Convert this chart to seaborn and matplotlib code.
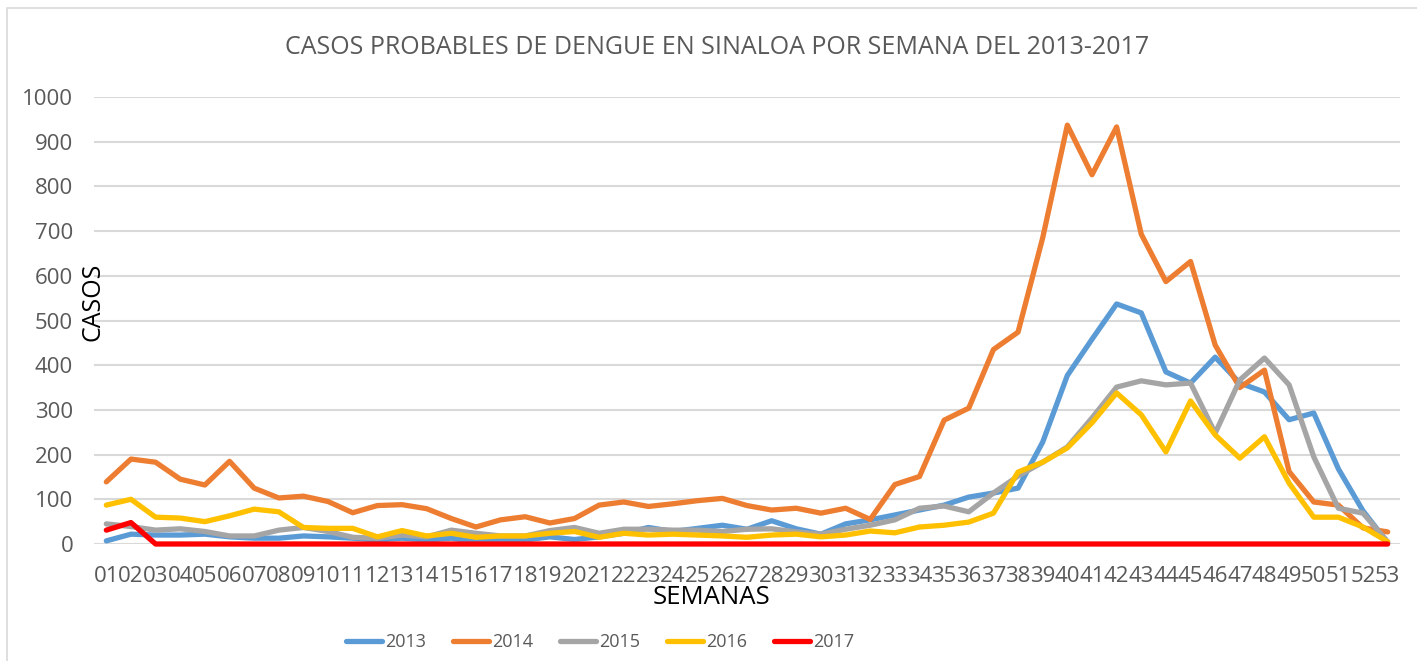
import numpy as np
import pandas as pd
import matplotlib
matplotlib.use("Agg")
import matplotlib.pyplot as plt
import seaborn as sns
from matplotlib.patches import Rectangle

# Weekly probable dengue cases, Sinaloa
semanas = [f"{i:02d}" for i in range(1, 54)]

casos_2013 = [7, 22, 20, 20, 22, 16, 13, 13, 18, 16, 13, 9, 13, 9, 13, 5, 9, 9, 16, 10,
              16, 24, 37, 28, 35, 42, 33, 52, 34, 22, 45, 54, 65, 76, 87, 105, 114, 125, 228, 377,
              458, 537, 517, 385, 360, 418, 360, 340, 278, 293, 168, 74, 3]
casos_2014 = [139, 190, 183, 145, 132, 185, 125, 103, 107, 95, 70, 86, 88, 79, 57, 38, 54, 61, 47, 57,
              87, 94, 84, 90, 97, 102, 86, 76, 80, 69, 80, 55, 133, 151, 277, 304, 435, 474, 685, 937,
              826, 933, 693, 587, 632, 445, 350, 389, 162, 94, 87, 36, 27]
casos_2015 = [45, 39, 31, 34, 28, 18, 18, 31, 37, 28, 15, 13, 20, 16, 31, 24, 18, 18, 30, 37,
              24, 33, 33, 31, 31, 28, 33, 34, 27, 22, 33, 42, 54, 80, 85, 72, 114, 152, 183, 217,
              282, 351, 365, 356, 360, 248, 367, 416, 356, 195, 80, 69, 5]
casos_2016 = [87, 100, 60, 58, 50, 63, 78, 72, 37, 35, 35, 16, 30, 18, 24, 15, 18, 18, 24, 28,
              15, 24, 20, 22, 20, 18, 15, 20, 22, 16, 20, 29, 25, 38, 42, 49, 69, 161, 183, 215,
              271, 338, 289, 206, 320, 244, 192, 240, 136, 60, 60, 38, 5]
casos_2017 = [31, 48] + [0] * 51

anios = ["2013", "2014", "2015", "2016", "2017"]
colores = ["#5B9BD5", "#ED7D31", "#A5A5A5", "#FFC000", "#FF0000"]

df = pd.DataFrame({
    "semana": list(range(1, 54)) * 5,
    "casos": casos_2013 + casos_2014 + casos_2015 + casos_2016 + casos_2017,
    "anio": [a for a in anios for _ in range(53)],
})

sns.set_style("white")
plt.rcParams["font.family"] = ["Open Sans", "DejaVu Sans"]

W, H = 1417, 661
fig = plt.figure(figsize=(W / 100, H / 100), dpi=100)
ax = fig.add_axes([94 / W, 1 - 544 / H, (1400 - 94) / W, (544 - 97) / H])

sns.lineplot(data=df, x="semana", y="casos", hue="anio", palette=dict(zip(anios, colores)),
             linewidth=3.8, ax=ax, legend=False, zorder=3)
for ln in ax.lines:
    ln.set_clip_on(False)

ax.set_xlim(0.5, 53.5)
ax.set_ylim(0, 1000)
ax.set_yticks(range(0, 1001, 100))
ax.set_xticks(range(1, 54))
ax.set_xticklabels(semanas)
ax.yaxis.grid(True, color="#D9D9D9", linewidth=1.5, zorder=0)
ax.xaxis.grid(False)
for s in ax.spines.values():
    s.set_visible(False)
ax.tick_params(axis="both", length=0, labelsize=16, labelcolor="#595959")
ax.tick_params(axis="x", pad=16)
ax.tick_params(axis="y", pad=15)
ax.set_xlabel("")
ax.set_ylabel("")

fig.text(717 / W, 1 - 47 / H, "CASOS PROBABLES DE DENGUE EN SINALOA POR SEMANA DEL 2013-2017",
         ha="center", va="center", fontsize=18, color="#595959")
fig.text(93 / W, 1 - 302 / H, "CASOS", rotation=90, ha="center", va="center",
         fontsize=18, color="black")
fig.text(711 / W, 1 - 598 / H, "SEMANAS", ha="center", va="center",
         fontsize=18.5, color="black")

handles = [plt.Line2D([], [], color=c, linewidth=3.8, solid_capstyle="round") for c in colores]
fig.legend(handles, anios, loc="center", bbox_to_anchor=(600 / W, 1 - 642 / H), ncol=5,
           frameon=False, fontsize=13, labelcolor="#595959", handlelength=2.0,
           handletextpad=0.15, columnspacing=1.5)

fig.patches.append(Rectangle((7 / W, -0.05), 1.2, 1 - 8 / H + 0.05, transform=fig.transFigure,
                             fill=False, edgecolor="#D9D9D9", linewidth=1.2))

fig.savefig("out.png", dpi=100)
